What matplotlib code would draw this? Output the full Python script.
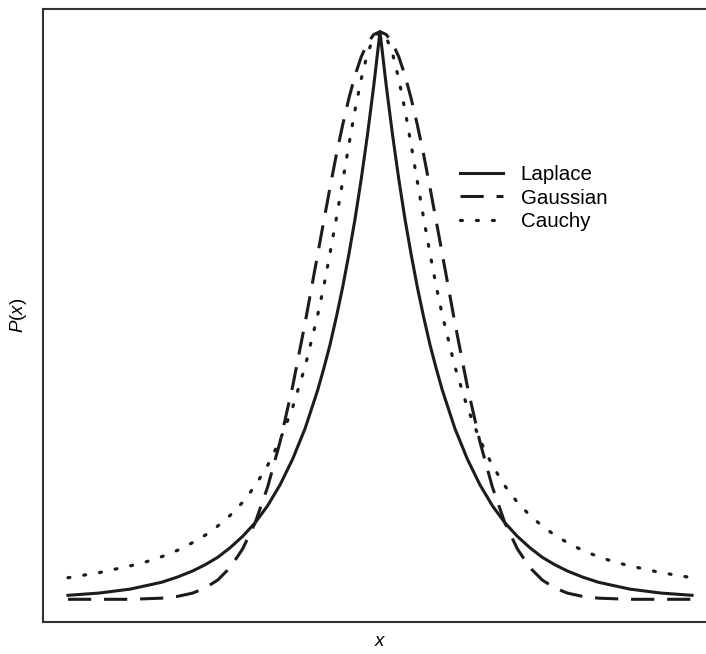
import matplotlib
matplotlib.use("Agg")
import matplotlib.pyplot as plt

plt.rcParams['font.family'] = ['Liberation Sans', 'DejaVu Sans']
plt.rcParams['mathtext.fontset'] = 'custom'
plt.rcParams['mathtext.it'] = 'Liberation Sans:italic'
plt.rcParams['mathtext.rm'] = 'Liberation Sans'

# x positions (arbitrary units, curve spans -5..5)
x_vals = [-5.0, -4.5, -4.0, -3.75, -3.5, -3.25, -3.0, -2.8, -2.6, -2.4, -2.2, -2.0,
          -1.8, -1.6, -1.4, -1.2, -1.0, -0.9, -0.8, -0.7, -0.6, -0.5, -0.4, -0.3,
          -0.2, -0.1, 0.0, 0.1, 0.2, 0.3, 0.4, 0.5, 0.6, 0.7, 0.8, 0.9, 1.0, 1.2,
          1.4, 1.6, 1.8, 2.0, 2.2, 2.4, 2.6, 2.8, 3.0, 3.25, 3.5, 3.75, 4.0, 4.5, 5.0]

laplace = [0.007, 0.011, 0.018, 0.024, 0.030, 0.039, 0.050, 0.061, 0.074, 0.091, 0.111, 0.135,
           0.165, 0.202, 0.247, 0.301, 0.368, 0.407, 0.449, 0.497, 0.549, 0.607, 0.670, 0.741,
           0.819, 0.905, 1.000, 0.905, 0.819, 0.741, 0.670, 0.607, 0.549, 0.497, 0.449, 0.407,
           0.368, 0.301, 0.247, 0.202, 0.165, 0.135, 0.111, 0.091, 0.074, 0.061, 0.050, 0.039,
           0.030, 0.024, 0.018, 0.011, 0.007]

gaussian = [0.000, 0.000, 0.000, 0.001, 0.002, 0.005, 0.011, 0.020, 0.034, 0.056, 0.089, 0.135,
            0.198, 0.278, 0.375, 0.487, 0.607, 0.667, 0.726, 0.783, 0.835, 0.882, 0.923, 0.956,
            0.980, 0.995, 1.000, 0.995, 0.980, 0.956, 0.923, 0.882, 0.835, 0.783, 0.726, 0.667,
            0.607, 0.487, 0.375, 0.278, 0.198, 0.135, 0.089, 0.056, 0.034, 0.020, 0.011, 0.005,
            0.002, 0.001, 0.000, 0.000, 0.000]

cauchy = [0.038, 0.047, 0.059, 0.066, 0.075, 0.086, 0.100, 0.113, 0.129, 0.148, 0.171, 0.200,
          0.236, 0.281, 0.338, 0.410, 0.500, 0.552, 0.610, 0.671, 0.735, 0.800, 0.862, 0.917,
          0.962, 0.990, 1.000, 0.990, 0.962, 0.917, 0.862, 0.800, 0.735, 0.671, 0.610, 0.552,
          0.500, 0.410, 0.338, 0.281, 0.236, 0.200, 0.171, 0.148, 0.129, 0.113, 0.100, 0.086,
          0.075, 0.066, 0.059, 0.047, 0.038]

series_labels = ["Laplace", "Gaussian", "Cauchy"]

fig = plt.figure(figsize=(7.06, 6.54), dpi=100)
ax = fig.add_axes([43/706, 32/654, (717-43)/706, (622-9)/654])

col = '#1c1c1c'
ax.plot(x_vals, laplace, color=col, lw=2.2, ls='-', label=series_labels[0])
ax.plot(x_vals, gaussian, color=col, lw=2.2, ls=(0, (7.6, 4.2)), label=series_labels[1])
ax.plot(x_vals, cauchy, color=col, lw=2.3, ls=(0, (0.6, 4.4)), dash_capstyle='round',
        label=series_labels[2])

ax.set_xlim(-5.4, 5.4)
ax.set_ylim(-0.04, 1.04)
ax.set_xticks([])
ax.set_yticks([])
for s in ax.spines.values():
    s.set_linewidth(1.5)
    s.set_color('#333333')

ax.set_xlabel(r'$x$', fontsize=13.5, labelpad=8)
ax.set_ylabel(r'$P(x)$', fontsize=13.5, labelpad=10)

leg = ax.legend(loc='upper left', frameon=False,
                fontsize=14.8, handlelength=2.1, handletextpad=0.85, labelspacing=0.22,
                borderpad=0, borderaxespad=0)
leg.set_bbox_to_anchor((460/706, 1 - 165/654), transform=fig.transFigure)

fig.savefig('out.png', dpi=100)
